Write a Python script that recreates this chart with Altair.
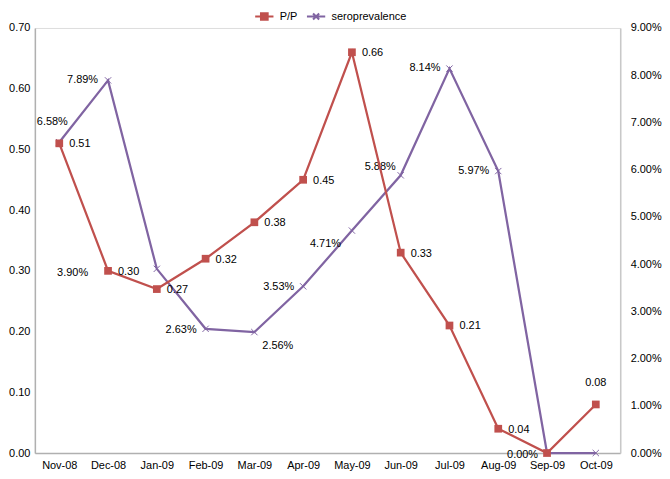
import altair as alt
import pandas as pd

# ---------------- data ----------------
months = ["Nov-08", "Dec-08", "Jan-09", "Feb-09", "Mar-09", "Apr-09",
          "May-09", "Jun-09", "Jul-09", "Aug-09", "Sep-09", "Oct-09"]
pp_values = [0.51, 0.30, 0.27, 0.32, 0.38, 0.45, 0.66, 0.33, 0.21, 0.04, 0.00, 0.08]
sero_percent = [6.58, 7.89, 3.90, 2.63, 2.56, 3.53, 4.71, 5.88, 8.14, 5.97, 0.00, 0.00]
series_names = ["P/P", "seroprevalence"]
left_ticks = [0.0, 0.1, 0.2, 0.3, 0.4, 0.5, 0.6, 0.7]
right_ticks_percent = [0, 1, 2, 3, 4, 5, 6, 7, 8, 9]

# ---------------- styling ----------------
RED = "#C0504D"
PURPLE = "#8064A2"
FONT = "Liberation Sans"
AXIS_GREY = "#B0B0B0"
SQ_PATH = "M-1.5,0L1.5,0M-0.55,-0.55L0.55,-0.55L0.55,0.55L-0.55,0.55Z"
X_PATH = "M-1.5,0L1.5,0M-0.5,-0.5L0.5,0.5M-0.5,0.5L0.5,-0.5"
X_MARK = "M-1,-1L1,1M-1,1L1,-1"

df = pd.DataFrame({
    "month": months,
    "pp": pp_values,
    "sero": [v / 100 for v in sero_percent],
})

x_enc = alt.X("month:N", sort=months,
              scale=alt.Scale(type="point", padding=0.5),
              axis=alt.Axis(title=None, labelAngle=0, ticks=False,
                            domainColor=AXIS_GREY, domainWidth=1.5,
                            labelPadding=7, labelFontSize=11,
                            labelColor="#000000", grid=False))

legend_common = dict(orient="none", direction="horizontal", title=None,
                     labelFontSize=11, labelFont=FONT, labelColor="#000000",
                     symbolSize=150, labelOffset=8, symbolStrokeWidth=2,
                     symbolOpacity=1, legendY=-19)

pp_color = alt.Color("series:N",
                     scale=alt.Scale(domain=[series_names[0]], range=[RED]),
                     legend=alt.Legend(legendX=223, symbolType=SQ_PATH,
                                       symbolFillColor=RED, **legend_common))
sero_stroke = alt.Stroke("series2:N",
                         scale=alt.Scale(domain=[series_names[1]], range=[PURPLE]),
                         legend=alt.Legend(legendX=275, symbolType=X_PATH,
                                           symbolFillColor="transparent",
                                           **legend_common))

base = alt.Chart(df)

# ---------- P/P (left axis) ----------
y_pp = alt.Y("pp:Q", scale=alt.Scale(domain=[0, 0.7]),
             axis=alt.Axis(orient="left", values=left_ticks, format=".2f",
                           title=None, grid=False, ticks=False,
                           domainColor=AXIS_GREY, domainWidth=1.5,
                           labelPadding=5, labelFontSize=11,
                           labelColor="#000000"))

pp_line = base.transform_calculate(series=f"'{series_names[0]}'").mark_line(
    strokeWidth=2.25).encode(x=x_enc, y=y_pp, color=pp_color)
pp_points = base.mark_point(shape="square", filled=True, size=60,
                            color=RED, opacity=1).encode(x=x_enc, y=y_pp)


def label_layer(field, fmt, subset, dx, dy, align, yenc):
    return base.transform_filter(
        alt.FieldOneOfPredicate(field="month", oneOf=subset)
    ).mark_text(dx=dx, dy=dy, align=align, baseline="middle",
                fontSize=11, font=FONT, color="#000000").encode(
        x=x_enc, y=yenc, text=alt.Text(f"{field}:Q", format=fmt))


pp_right = [m for m in months if m not in ("Sep-09", "Oct-09")]
pp_labels = [
    label_layer("pp", ".2f", pp_right, 10, 1, "left", y_pp),
    label_layer("pp", ".2f", ["Oct-09"], 0, -22, "center", y_pp),
]
pp_chart = alt.layer(pp_line, pp_points, *pp_labels)

# ---------- seroprevalence (right axis) ----------
y_sero = alt.Y("sero:Q", scale=alt.Scale(domain=[0, 0.09]),
               axis=alt.Axis(orient="right",
                             values=[v / 100 for v in right_ticks_percent],
                             format=".2%", title=None, grid=False, ticks=False,
                             domainColor="#C8C8C8", domainWidth=1.5,
                             labelPadding=10, labelFontSize=11,
                             labelColor="#000000"))

sero_line = base.transform_calculate(series2=f"'{series_names[1]}'").mark_line(
    strokeWidth=2.25).encode(x=x_enc, y=y_sero, stroke=sero_stroke)
sero_points = base.mark_point(shape=X_MARK, filled=False, size=40,
                              color=PURPLE, strokeWidth=1,
                              opacity=1).encode(x=x_enc, y=y_sero)

sero_offsets = [
    (["Nov-08"], -7, -20, "center"),
    (["Dec-08"], -10, 0, "right"),
    (["Jan-09"], -69, 4, "right"),
    (["Feb-09"], -9, 1, "right"),
    (["Mar-09"], 8, 14, "left"),
    (["Apr-09"], -9, 1, "right"),
    (["May-09"], -11, 13, "right"),
    (["Jun-09"], -5, -8, "right"),
    (["Jul-09"], -9, -1, "right"),
    (["Aug-09"], -9, 0, "right"),
    (["Sep-09"], -9, 2, "right"),
]
sero_labels = [label_layer("sero", ".2%", s, dx, dy, a, y_sero)
               for s, dx, dy, a in sero_offsets]
sero_chart = alt.layer(sero_line, sero_points, *sero_labels)

chart = alt.layer(sero_chart, pp_chart).resolve_scale(
    y="independent"
).properties(
    width=588, height=427,
    padding={"left": 0, "top": 0, "right": 0, "bottom": 0},
).configure_view(stroke=None).configure(
    font=FONT, background="white"
)

chart.save("out.html", embed_options={"renderer": "svg", "actions": False})
